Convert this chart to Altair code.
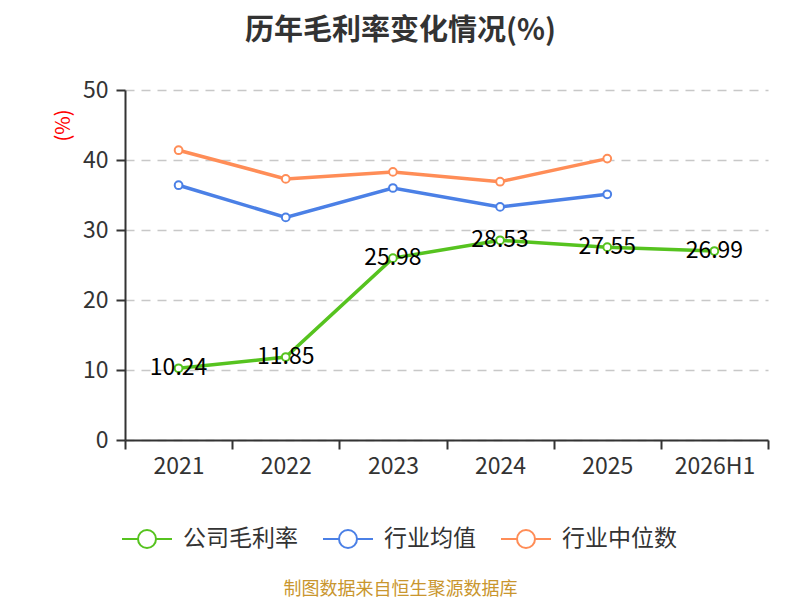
import altair as alt
import pandas as pd

years = ["2021", "2022", "2023", "2024", "2025", "2026H1"]
series_names = ["公司毛利率", "行业均值", "行业中位数"]
company = [10.24, 11.85, 25.98, 28.53, 27.55, 26.99]
industry_mean = [36.4, 31.8, 36.0, 33.3, 35.1, None]
industry_median = [41.4, 37.3, 38.3, 36.9, 40.2, None]
colors = ["#56C31F", "#4B80E6", "#FF8D57"]

rows = []
for name, vals in zip(series_names, [company, industry_mean, industry_median]):
    for y, v in zip(years, vals):
        if v is not None:
            rows.append({"year": y, "series": name, "value": v})
df = pd.DataFrame(rows)

CJK = "Noto Sans CJK SC"

x_enc = alt.X(
    "year:O",
    sort=years,
    scale=alt.Scale(type="band", paddingInner=0, paddingOuter=0),
    axis=alt.Axis(
        title="制图数据来自恒生聚源数据库",
        titleColor="#C9962E",
        titleFontSize=18,
        titleFont=CJK,
        titleFontWeight="normal",
        titleX=275,
        titleY=149,
        titleAlign="center",
        titleBaseline="middle",
        tickBand="extent",
        labelAngle=0,
        labelFontSize=23,
        labelFont=CJK,
        labelColor="#333333",
        labelPadding=6,
        tickSize=9,
        tickColor="#333333",
        tickWidth=2,
        domainColor="#333333",
        domainWidth=2,
        grid=False,
    ),
)
y_enc = alt.Y(
    "value:Q",
    scale=alt.Scale(domain=[0, 50], nice=False),
    axis=alt.Axis(
        values=[0, 10, 20, 30, 40, 50],
        title="(%)",
        titleColor="red",
        titleFontSize=20,
        titleFont=CJK,
        titleFontWeight="normal",
        titleX=-62,
        titleY=35,
        titleAngle=-90,
        titleAlign="center",
        titleBaseline="middle",
        labelFontSize=23,
        labelFont=CJK,
        labelColor="#333333",
        labelPadding=8,
        tickSize=9,
        tickColor="#333333",
        tickWidth=2,
        domainColor="#333333",
        domainWidth=2,
        grid=True,
        gridColor="#C8C8C8",
        gridDash=[9, 7],
        gridWidth=1.5,
    ),
)
color_enc = alt.Color(
    "series:N",
    sort=series_names,
    scale=alt.Scale(domain=series_names, range=colors),
    legend=alt.Legend(
        title=None,
        orient="none",
        legendX=-4,
        legendY=423,
        direction="horizontal",
        symbolType="M-1,0H-0.36M0.36,0H1M0.36,0A0.36,0.36,0,1,1,-0.36,0A0.36,0.36,0,1,1,0.36,0Z",
        symbolSize=2500,
        symbolStrokeWidth=2,
        symbolFillColor="white",
        labelFontSize=23,
        labelFont=CJK,
        labelColor="#333333",
        labelOffset=10,
        columnPadding=21,
    ),
)

base = alt.Chart(df).encode(x=x_enc, y=y_enc, color=color_enc)

lines = base.mark_line(strokeWidth=3.5)
points = base.mark_point(filled=False, fill="white", fillOpacity=1, size=60, strokeWidth=2, opacity=1)
labels = (
    alt.Chart(df)
    .transform_filter(alt.datum.series == "公司毛利率")
    .mark_text(fontSize=23, font=CJK, color="black", baseline="middle", align="center")
    .encode(x=alt.X("year:O", sort=years), y=alt.Y("value:Q"), text=alt.Text("value:Q", format=".2f"))
)

chart = (
    alt.layer(lines, points, labels)
    .properties(
        width=643,
        height=350,
        autosize=alt.AutoSizeParams(type="none"),
        padding={"left": 117, "top": 82, "right": 24, "bottom": 158},
        title=alt.TitleParams(
            text="历年毛利率变化情况(%)",
            fontSize=29,
            font=CJK,
            fontWeight="bold",
            color="#333333",
            anchor="middle",
            dx=-46,
            dy=-29,
        ),
    )
    .configure_view(stroke=None)
)

chart.save("out.html", embed_options={"renderer": "svg", "actions": False})
